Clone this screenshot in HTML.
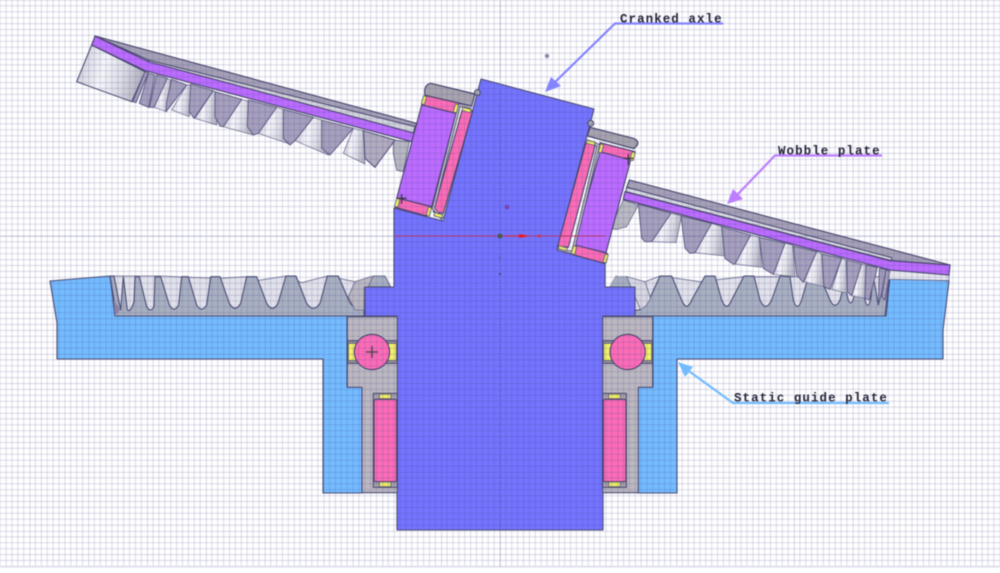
<!DOCTYPE html>
<html><head><meta charset="utf-8"><style>
html,body{margin:0;padding:0;background:#fff;width:1000px;height:573px;overflow:hidden}
svg{display:block;filter:blur(.4px)}
svg *{vector-effect:non-scaling-stroke}
.o{stroke:#4c4c74;stroke-width:1.1;stroke-linejoin:round}
.th{fill:#a6a0bc;stroke:#5a5680;stroke-width:.9;stroke-linejoin:round}
.gp{fill:url(#shine);stroke:#6a6a8c;stroke-width:.7}
.y{fill:#f4f268;stroke:#5a5a70;stroke-width:.8}
.p{fill:#fc6cb6;stroke:#45456a;stroke-width:1.1}
.v{fill:#bc6cff;stroke:#45456a;stroke-width:1.1}
.c{fill:#a6a1b6;stroke:#45456a;stroke-width:1.1}
text{font-family:"Liberation Mono",monospace;font-weight:bold;font-size:12.5px;fill:#25253a;letter-spacing:1.05px}
</style></head><body>
<svg width="1000" height="573" viewBox="0 0 1000 573" xmlns="http://www.w3.org/2000/svg">
<defs>
<linearGradient id="shine" x1="0" y1="0" x2="1" y2="0.2">
<stop offset="0" stop-color="#c8c8d2"/><stop offset=".45" stop-color="#f6f6fa"/><stop offset=".75" stop-color="#dcdce4"/><stop offset="1" stop-color="#b8b8c4"/>
</linearGradient>
<pattern id="g" patternUnits="userSpaceOnUse" x="500" y="0" width="58.8" height="59">
<g stroke="#3c3c8c" stroke-opacity=".16" stroke-width="1.2" fill="none">
<path d="M5.88 0V59M11.76 0V59M17.64 0V59M23.52 0V59M29.4 0V59M35.28 0V59M41.16 0V59M47.04 0V59M52.92 0V59"/>
<path d="M0 5.9H58.8M0 11.8H58.8M0 17.7H58.8M0 23.6H58.8M0 29.5H58.8M0 35.4H58.8M0 41.3H58.8M0 47.2H58.8M0 53.1H58.8"/>
</g>
<path d="M0 0V59M0 0H58.8" stroke="#3c3c8c" stroke-opacity=".3" stroke-width="1.3" fill="none"/>
</pattern>
</defs>
<rect width="1000" height="573" fill="#fff"/>

<!-- static guide plate -->
<polygon class="o" fill="#74bcff" points="50,281 110,276 115,316 347,316 347,387 362,387 362,493 323,493 323,359 57,359 57,323"/>
<polygon class="o" fill="#74bcff" points="890,277 949,281 943,330 943,359 677,359 677,493 638,493 638,387 653,387 653,316 886,316"/>

<!-- lower gear, left -->
<g transform="translate(40,260) scale(.33333)">
<polygon fill="#e2e2ea" stroke="#6a6a8c" stroke-width=".8" points="212,48 362,48 445,52 540,55 620,50 650,62 738,48 785,68 862,48 945,65 1000,50 1000,168 225,168"/>
<path class="o" fill="#a8b0c0" d="M225,168 L222,120 L210,48 L222,48 L242,150 L250,50 L262,150 Q272,158 282,125 L285,50 L298,50 L320,140 Q332,160 342,140 L345,50 L362,50 L388,135 Q402,160 416,135 L425,50 L445,50 L470,135 Q485,160 500,135 L512,50 L540,50 L568,130 Q585,160 602,130 L620,50 L650,50 L680,130 Q697,160 714,130 L738,48 L768,48 L800,130 Q820,160 840,130 L862,48 L895,48 L928,125 Q950,160 972,120 L972,168 Z"/>
<polygon fill="#bcb8c0" stroke="#6a6a8c" stroke-width=".8" points="925,110 945,65 985,52 1000,48 1035,48 1052,80 972,82 972,150 945,150"/>
<polygon fill="#a8b0c0" stroke="#6a6a8c" stroke-width=".8" points="985,80 1000,48 1035,48 1052,80"/>
<polygon fill="#8f86a8" points="222,120 240,150 225,168"/>
</g>

<!-- lower gear, right -->
<g transform="translate(600,130) scale(.33333)">
<polygon fill="#e2e2ea" stroke="#6a6a8c" stroke-width=".8" points="30,470 48,438 135,455 180,438 300,455 432,440 540,440 700,440 855,440 855,558 105,558 105,490 30,490"/>
<path class="o" fill="#a8b0c0" d="M105,558 L105,540 Q122,545 145,515 L180,438 L215,438 L245,510 Q260,548 275,510 L315,438 L345,438 L365,510 Q380,548 395,510 L432,438 L462,438 L480,510 Q497,548 515,510 L540,438 L570,440 L580,510 Q592,548 605,510 L625,440 L660,440 L690,510 Q705,542 720,510 L735,455 L742,500 Q752,538 762,500 L775,440 L795,510 Q803,542 812,510 L820,440 L835,525 L850,440 L868,440 L855,558 Z"/>
<polygon fill="#a8b0c0" points="30,470 48,438 82,438 105,472 105,490"/>
<polygon fill="#d8d8e2" stroke="#6a6a8c" stroke-width=".8" points="80,440 135,455 152,505 140,525 122,540 105,500"/>
</g>

<!-- right gear teeth hanging from plate -->
<g transform="translate(600,130) scale(.33333)">
<polygon fill="#babac2" stroke="#6a6a8c" stroke-width=".8" points="70,210 30,295 50,298 80,290 115,225"/>
<polygon class="gp" points="213,250 155,335 228,338 245,258"/>
<polygon class="gp" points="335,280 285,368 375,378 365,290"/>
<polygon class="gp" points="452,315 405,402 485,412 478,322"/>
<polygon class="gp" points="555,340 520,433 585,440 578,345"/>
<polygon class="gp" points="650,365 612,455 672,470 665,370"/>
<polygon class="gp" points="725,385 695,478 742,490 738,390"/>
<polygon class="gp" points="785,402 755,497 798,505 798,405"/>
<polygon class="th" points="115,222 125,325 135,335 155,335 213,250"/>
<polygon class="th" points="243,258 255,355 270,370 285,368 335,280"/>
<polygon class="th" points="365,290 375,385 400,403 405,402 452,315"/>
<polygon class="th" points="478,322 490,415 520,433 555,340"/>
<polygon class="th" points="580,348 590,435 610,457 650,365"/>
<polygon class="th" points="665,372 672,470 690,478 725,385"/>
<polygon class="th" points="740,390 742,485 755,497 785,402"/>
<polygon class="th" points="798,405 795,505 808,510 832,412"/>
<polygon class="th" points="838,415 835,525 845,490 858,418"/>
<polygon class="th" points="858,418 845,500 855,510 870,425"/>
<!-- plate -->
<polygon fill="#e8e8ee" stroke="#6a6a8c" stroke-width=".8" points="870,420 1047,435 1047,452 866,448"/>
<polygon class="c" points="88,150 1050,405 875,392 872,385 80,172"/>
<polygon fill="#dcdce4" stroke="#45456a" stroke-width="1" points="80,172 875,383 875,392 78,185"/>
<polygon class="v" points="75,185 870,392 1050,405 1047,435 870,420 70,208"/>
</g>

<!-- left wobble plate and teeth -->
<g transform="translate(50,20) scale(.33333)">
<polygon fill="url(#shine)" stroke="#45456a" stroke-width="1" points="125,75 80,185 245,245 285,155"/>
<polygon class="gp" points="350,175 312,262 350,275 362,180"/>
<polygon class="gp" points="410,195 365,270 418,290 425,195"/>
<polygon class="gp" points="490,212 435,295 500,315 500,218"/>
<polygon class="gp" points="575,238 520,320 610,345 595,245"/>
<polygon class="gp" points="680,262 625,340 718,372 700,268"/>
<polygon class="gp" points="790,292 735,362 835,405 815,300"/>
<polygon class="gp" points="910,325 880,400 945,432 940,332"/>
<polygon fill="#b8b8c2" stroke="#5a5a80" stroke-width=".8" points="1030,360 1030,400 1040,450 1060,455 1078,365"/>
<polygon class="th" points="285,155 248,245 258,248 295,158"/>
<polygon class="th" points="295,160 268,250 296,262 315,165"/>
<polygon class="th" points="320,165 298,262 312,262 352,175"/>
<polygon class="th" points="365,178 350,245 348,275 410,195"/>
<polygon class="th" points="422,192 418,275 432,295 490,212"/>
<polygon class="th" points="495,215 495,290 510,318 520,320 575,238"/>
<polygon class="th" points="595,240 592,320 610,345 625,340 680,262"/>
<polygon class="th" points="700,268 700,355 720,375 735,362 790,292"/>
<polygon class="th" points="815,300 815,385 840,405 910,325"/>
<polygon fill="#b2acbe" stroke="#4d4a72" stroke-width="1" points="940,332 945,415 975,442 1035,360"/>
<polygon class="c" points="135,48 1100,310 1090,335 295,128 295,120"/>
<polygon fill="#d4d4dc" stroke="#45456a" stroke-width="1" points="295,120 1095,320 1090,340 295,130"/>
<polygon class="v" points="135,48 295,125 1095,340 1085,365 285,152 125,75"/>
</g>

<!-- cranked axle -->
<polygon class="o" fill="#7474ff" points="481,79 594,109 557,250 605,263 605,287 635,287 635,316 603,316 603,530 397,530 397,316 365,316 365,287 394,287 394,208 443,221"/>

<!-- tilted bearings -->
<g transform="translate(380,70) scale(.33333)">
<path fill="#a8a4ae" stroke="#45456a" stroke-width="1.2" d="M152,40 L285,72 L275,108 L135,76 Q130,45 152,40 Z"/>
<circle cx="292" cy="68" r="9" fill="#a8a8b0" stroke="#45456a" stroke-width="1"/>
<polygon class="p" points="135,76 240,100 228,130 125,105"/>
<polygon class="v" points="125,105 228,130 155,410 50,385"/>
<polygon class="p" points="55,385 155,410 140,438 46,412"/>
<polygon class="p" points="248,115 278,123 190,430 160,425"/>
<polyline points="275,112 238,105 160,415 190,450" fill="none" stroke="#45456a" stroke-width="3.2"/>
<polyline points="275,112 238,105 160,415 190,450" fill="none" stroke="#c4c0c8" stroke-width="1.6"/>

<path fill="#a8a4ae" stroke="#45456a" stroke-width="1.2" d="M630,172 L760,205 Q778,212 772,225 L762,236 L622,198 Z"/>
<circle cx="632" cy="160" r="9" fill="#a8a8b0" stroke="#45456a" stroke-width="1"/>
<polygon class="p" points="660,218 765,245 752,272 655,245"/>
<polygon class="v" points="660,245 752,270 678,548 582,525"/>
<polygon class="p" points="585,525 682,550 672,580 575,553"/>
<polygon class="p" points="618,218 646,225 565,532 533,528"/>
<polyline points="622,213 655,226 578,548 535,538" fill="none" stroke="#45456a" stroke-width="3.2"/>
<polyline points="622,213 655,226 578,548 535,538" fill="none" stroke="#c4c0c8" stroke-width="1.6"/>

<g class="y">
<rect x="127" y="78" width="10" height="25" transform="rotate(15 132 90)"/>
<rect x="223" y="103" width="10" height="25" transform="rotate(15 228 115)"/>
<rect x="47" y="386" width="10" height="25" transform="rotate(15 52 398)"/>
<rect x="142" y="412" width="10" height="25" transform="rotate(15 147 424)"/>
<rect x="658" y="223" width="10" height="25" transform="rotate(15 663 235)"/>
<rect x="753" y="246" width="10" height="25" transform="rotate(15 758 258)"/>
<rect x="577" y="528" width="10" height="25" transform="rotate(15 582 540)"/>
<rect x="672" y="553" width="10" height="25" transform="rotate(15 677 565)"/>
<rect x="247" y="115" width="26" height="10" transform="rotate(15 260 120)"/>
<rect x="162" y="431" width="26" height="10" transform="rotate(15 175 436)"/>
<rect x="619" y="213" width="26" height="10" transform="rotate(15 632 218)"/>
<rect x="535" y="530" width="26" height="10" transform="rotate(15 548 535)"/>
</g>
<path d="M65,372V402M52,385H80M745,252V285M732,265H760" stroke="#333" stroke-width="1.2"/>
</g>

<!-- lower bearings -->
<g transform="translate(310,300) scale(.33333)">
<polygon class="o" fill="#bcb8c0" points="112,50 262,50 262,578 156,578 156,262 112,262"/>
<polygon class="o" fill="#bcb8c0" points="878,50 1028,50 1028,262 985,262 985,578 878,578"/>
<rect x="112" y="122" width="150" height="68" fill="#9a96a4" stroke="#45456a" stroke-width="1"/>
<rect x="878" y="122" width="150" height="68" fill="#9a96a4" stroke="#45456a" stroke-width="1"/>
<rect x="115" y="130" width="144" height="52" class="y"/>
<rect x="881" y="130" width="144" height="52" class="y"/>
<circle cx="186" cy="156" r="53" class="p"/>
<circle cx="953" cy="156" r="53" class="p"/>
<path d="M168,156H204M186,138V174" stroke="#444" stroke-width="1.3"/>
<rect x="190" y="280" width="72" height="282" fill="#a8a4ae" stroke="#45456a" stroke-width="1"/>
<rect x="878" y="280" width="71" height="282" fill="#a8a4ae" stroke="#45456a" stroke-width="1"/>
<rect x="192" y="298" width="68" height="247" rx="5" class="p"/>
<rect x="880" y="298" width="68" height="247" rx="5" class="p"/>
<rect x="208" y="282" width="35" height="14" class="y"/>
<rect x="208" y="546" width="35" height="14" class="y"/>
<rect x="896" y="282" width="35" height="14" class="y"/>
<rect x="896" y="546" width="35" height="14" class="y"/>
</g>

<!-- grid overlay -->
<rect x="0" y="0" width="1000" height="567" fill="url(#g)"/>
<rect x="0" y="566" width="1000" height="1.5" fill="#dcdcec"/>
<path d="M0 236H394M605 236H1000" stroke="#3c3c8c" stroke-opacity=".18" stroke-width="1"/>
<path d="M500 0V79M500 530V567" stroke="#3c3c8c" stroke-opacity=".18" stroke-width="1"/>

<!-- centre marks -->
<path d="M394 236H605" stroke="#b0386a" stroke-width=".9"/>
<path d="M500 90V530" stroke="#5a5aa8" stroke-opacity=".55" stroke-width="1" stroke-dasharray="5 1.5"/>
<circle cx="500" cy="236" r="2.6" fill="#4a5a50"/>
<polygon points="519,234 530,236 519,238" fill="#f01818"/>
<path d="M505 236H519" stroke="#e82020" stroke-width="1"/>
<rect x="538" y="234.5" width="3" height="3" fill="#c04060"/>
<circle cx="507" cy="207" r="2" fill="#7a4ab0" stroke="#6a3aa0" stroke-width=".6"/>
<circle cx="547" cy="56" r="2.2" fill="#8a8aa8"/>
<circle cx="500" cy="258" r="1.2" fill="#4a6ab0"/>
<circle cx="500" cy="274" r="1.2" fill="#4a4a80"/>

<!-- leaders -->
<g fill="none" stroke-width="2.2">
<polyline points="723,23.5 615,23.5 552,85" stroke="#8484ff"/>
<polyline points="882,155.5 775,155.5 736,196" stroke="#bd7dff"/>
<polyline points="889,403 733,403 686,369" stroke="#72bbff"/>
</g>
<polygon points="545,92 551,77 561,86" fill="#8484ff"/>
<polygon points="727,204 733,189 743,199" fill="#bd7dff"/>
<polygon points="678,362 693,367 685,377" fill="#72bbff"/>

<text x="620" y="22.5">Cranked axle</text>
<text x="778" y="154.5">Wobble plate</text>
<text x="734" y="401.5">Static guide plate</text>
</svg>
</body></html>
